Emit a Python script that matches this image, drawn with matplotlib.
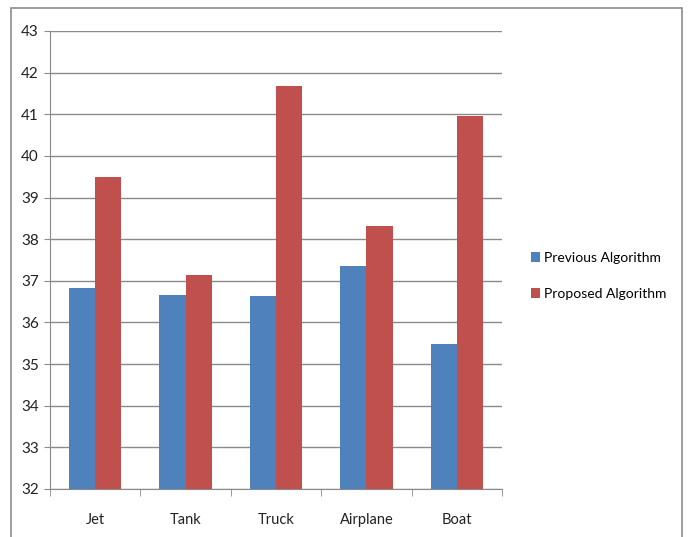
import matplotlib.pyplot as plt
import numpy as np
from matplotlib.patches import Rectangle

plt.rcParams['font.family'] = ['Lato', 'DejaVu Sans']

categories = ['Jet', 'Tank', 'Truck', 'Airplane', 'Boat']
previous = [36.83, 36.67, 36.64, 37.36, 35.49]
proposed = [39.50, 37.13, 41.68, 38.32, 40.96]
series_names = ['Previous Algorithm', 'Proposed Algorithm']

W, H = 688, 537
fig = plt.figure(figsize=(W / 100, H / 100), dpi=100)

# chart frame around everything (bottom edge runs off the figure)
fig.patches.append(Rectangle((11 / W, -0.05), 671 / W, 1.05 - 8 / H, transform=fig.transFigure,
                             fill=False, edgecolor='#8c8c8c', linewidth=1.2))

ax = fig.add_axes([50 / W, 1 - 489 / H, 452 / W, 458 / H])

x = np.arange(len(categories))
w = 0.29
ax.bar(x - w / 2, previous, w, color='#4f81bd', label=series_names[0], zorder=3)
ax.bar(x + w / 2, proposed, w, color='#c0504d', label=series_names[1], zorder=3)

ax.set_ylim(32, 43)
ax.set_yticks(range(32, 44))
ax.set_xlim(-0.5, len(categories) - 0.5)
ax.set_xticks(x)
ax.set_xticklabels(categories)
ax.set_xticks(np.arange(-0.5, len(categories)), minor=True)

ax.yaxis.grid(True, color='#8a8a8a', linewidth=1.0, zorder=0)
for s in ['top', 'right']:
    ax.spines[s].set_visible(False)
ax.spines['left'].set_color('#8a8a8a')
ax.spines['bottom'].set_color('#8a8a8a')

ax.tick_params(axis='y', direction='out', length=4, color='#8a8a8a', labelsize=11,
               labelcolor='#222222', pad=4)
ax.tick_params(axis='x', which='major', length=0, labelsize=10.5, labelcolor='#222222', pad=17)
ax.tick_params(axis='x', which='minor', direction='out', length=5, color='#8a8a8a')

ax.legend(loc='center left', bbox_to_anchor=(518 / W, 1 - 276 / H), bbox_transform=fig.transFigure,
          frameon=False, fontsize=10, handlelength=0.7, handleheight=0.7, handletextpad=0.3,
          labelspacing=1.7)

plt.savefig('out.png', dpi=100)
